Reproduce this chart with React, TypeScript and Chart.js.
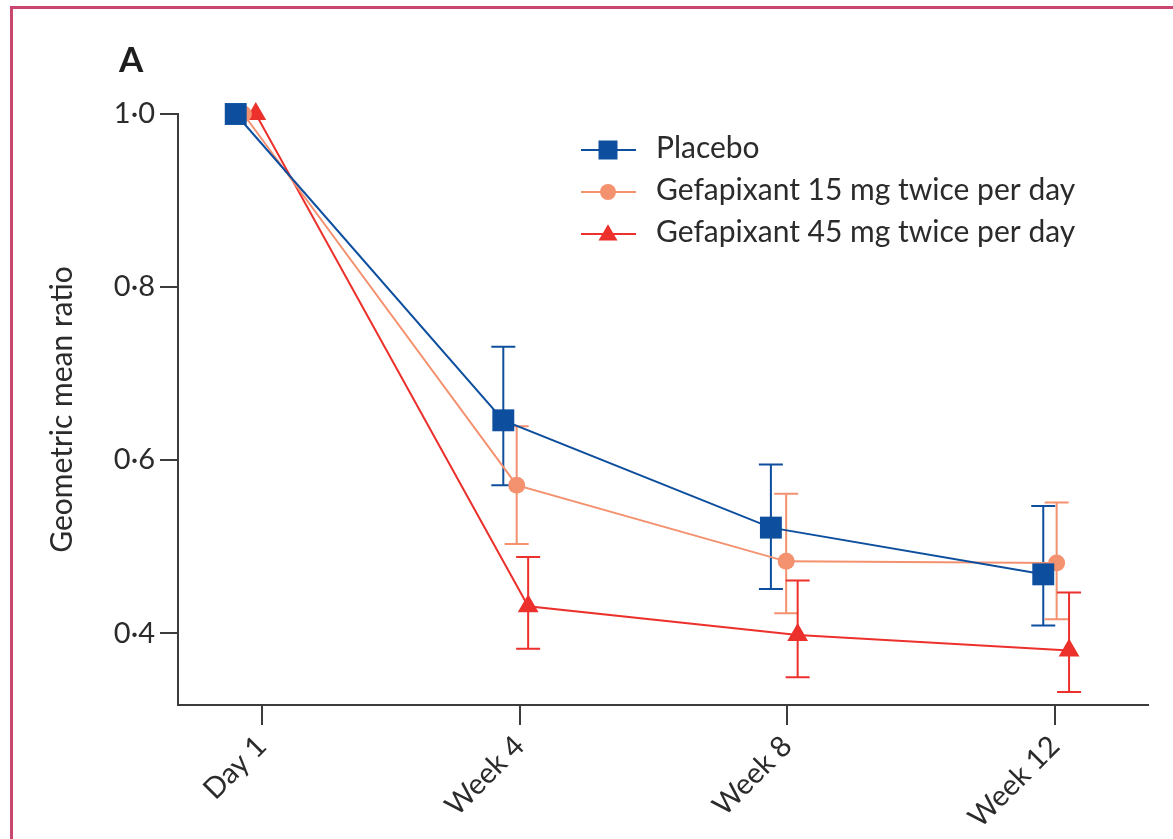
import React, { useEffect, useRef } from "react";
import { Chart, registerables } from "chart.js";

Chart.register(...registerables);

// ---------- data ----------
const categories = ["Day 1", "Week 4", "Week 8", "Week 12"];
const categoryDays = [1, 28, 56, 84];
const yTicks = [0.4, 0.6, 0.8, 1.0];
const seriesNames = [
  "Placebo",
  "Gefapixant 15 mg twice per day",
  "Gefapixant 45 mg twice per day",
];

const placeboMean = [1.0, 0.646, 0.522, 0.468];
const placeboLow = [null, 0.571, 0.451, 0.409];
const placeboHigh = [null, 0.731, 0.595, 0.547];
const placeboDodge = [-2.7, -1.7, -1.7, -1.2];

const g15Mean = [1.0, 0.571, 0.483, 0.481];
const g15Low = [null, 0.503, 0.423, 0.416];
const g15High = [null, 0.639, 0.561, 0.551];
const g15Dodge = [-1.9, -0.3, -0.1, 0.2];

const g45Mean = [1.0, 0.431, 0.398, 0.38];
const g45Low = [null, 0.382, 0.349, 0.332];
const g45High = [null, 0.488, 0.461, 0.447];
const g45Dodge = [-0.6, 0.9, 1.1, 1.5];

// ---------- style ----------
const C_PLACEBO = "#0d4f9e";
const C_15 = "#f4916f";
const C_45 = "#ec302c";
const AXIS = "#3c3c3c";
const TEXT = "#2b2b2b";
const FONT = "Lato";

const seriesColors = [C_PLACEBO, C_15, C_45];
const seriesStyles = ["rect", "circle", "triangle"];
const seriesRadius = [15.5, 8.5, 12];
const lows = [placeboLow, g15Low, g45Low];
const highs = [placeboHigh, g15High, g45High];

function points(mean: number[], dodge: number[]) {
  return categoryDays.map((d, i) => ({ x: d + dodge[i], y: mean[i] }));
}

function drawMarker(ctx: CanvasRenderingContext2D, style: string, x: number, y: number, size: number, color: string) {
  ctx.save();
  ctx.fillStyle = color;
  ctx.beginPath();
  if (style === "rect") {
    ctx.rect(x - size / 2, y - size / 2, size, size);
  } else if (style === "circle") {
    ctx.arc(x, y, size / 2, 0, Math.PI * 2);
  } else {
    const h = size * 0.85;
    ctx.moveTo(x, y - h * 0.6);
    ctx.lineTo(x + size / 2, y + h * 0.4);
    ctx.lineTo(x - size / 2, y + h * 0.4);
    ctx.closePath();
  }
  ctx.fill();
  ctx.restore();
}

const errorBarPlugin = {
  id: "errorBars",
  beforeDatasetsDraw(chart: any) {
    const ctx = chart.ctx;
    const xs = chart.scales.x;
    const ys = chart.scales.y;
    ctx.save();
    ctx.lineWidth = 2;
    chart.data.datasets.forEach((ds: any, i: number) => {
      ctx.strokeStyle = seriesColors[i];
      ds.data.forEach((p: any, j: number) => {
        const lo = lows[i][j];
        const hi = highs[i][j];
        if (lo == null || hi == null) return;
        const x = xs.getPixelForValue(p.x);
        const y1 = ys.getPixelForValue(lo);
        const y2 = ys.getPixelForValue(hi);
        ctx.beginPath();
        ctx.moveTo(x, y1);
        ctx.lineTo(x, y2);
        ctx.moveTo(x - 12, y1);
        ctx.lineTo(x + 12, y1);
        ctx.moveTo(x - 12, y2);
        ctx.lineTo(x + 12, y2);
        ctx.stroke();
      });
    });
    ctx.restore();
  },
};

const decorPlugin = {
  id: "decor",
  afterDraw(chart: any) {
    const ctx = chart.ctx;
    ctx.save();
    // panel letter
    ctx.fillStyle = "#1e1e1e";
    ctx.font = `bold 35px ${FONT}`;
    ctx.textBaseline = "alphabetic";
    ctx.textAlign = "left";
    ctx.fillText("A", 119, 72);
    // legend
    const x0 = 581;
    const x1 = 636;
    const mx = 608;
    seriesNames.forEach((name, i) => {
      const y = 150 + i * 42;
      ctx.strokeStyle = seriesColors[i];
      ctx.lineWidth = 2;
      ctx.beginPath();
      ctx.moveTo(x0, y);
      ctx.lineTo(x1, y);
      ctx.stroke();
      drawMarker(ctx, seriesStyles[i], mx, y, i === 0 ? 19 : i === 1 ? 16 : 19, seriesColors[i]);
      ctx.fillStyle = TEXT;
      ctx.font = `30px ${FONT}`;
      ctx.textBaseline = "middle";
      ctx.fillText(name, 656, y - 2);
    });
    ctx.restore();
  },
};

export default function App() {
  const ref = useRef<HTMLCanvasElement | null>(null);

  useEffect(() => {
    if (!ref.current) return;
    const chart = new Chart(ref.current, {
      type: "line",
      data: {
        datasets: [
          { label: seriesNames[0], data: points(placeboMean, placeboDodge) },
          { label: seriesNames[1], data: points(g15Mean, g15Dodge) },
          { label: seriesNames[2], data: points(g45Mean, g45Dodge) },
        ].map((d, i) => ({
          ...d,
          borderColor: seriesColors[i],
          backgroundColor: seriesColors[i],
          borderWidth: 2,
          pointStyle: seriesStyles[i] as any,
          pointRadius: seriesRadius[i],
          pointBorderWidth: 0,
          pointHoverRadius: seriesRadius[i],
          tension: 0,
          clip: false as any,
          order: i,
        })),
      },
      options: {
        animation: false,
        responsive: false,
        devicePixelRatio: 1,
        layout: { padding: { left: 44, top: 114, right: 25, bottom: 0 } },
        plugins: { legend: { display: false }, tooltip: { enabled: false } },
        scales: {
          x: {
            type: "linear",
            position: "bottom",
            min: -7.74,
            max: 93.76,
            afterBuildTicks: (s: any) => {
              s.ticks = categoryDays.map((v) => ({ value: v }));
            },
            afterFit: (s: any) => {
              s.height = 134;
            },
            ticks: {
              autoSkip: false,
              minRotation: 45,
              maxRotation: 45,
              padding: 4,
              color: TEXT,
              font: { family: FONT, size: 29 },
              callback: (_v: any, i: number) => categories[i],
            },
            grid: { drawOnChartArea: false, drawTicks: true, tickLength: 20, color: AXIS, lineWidth: 2 },
            border: { display: true, color: AXIS, width: 2 },
          },
          y: {
            type: "linear",
            position: "left",
            min: 0.317,
            max: 1.0,
            afterBuildTicks: (s: any) => {
              s.ticks = yTicks.map((v) => ({ value: v }));
            },
            afterFit: (s: any) => {
              s.width = 134;
            },
            ticks: {
              padding: 5,
              color: TEXT,
              font: { family: FONT, size: 29 },
              callback: (v: any) => Number(v).toFixed(1).replace(".", "·"),
            },
            grid: { drawOnChartArea: false, drawTicks: true, tickLength: 18, color: AXIS, lineWidth: 2 },
            border: { display: true, color: AXIS, width: 2 },
            title: {
              display: true,
              text: "Geometric mean ratio",
              color: TEXT,
              font: { family: FONT, size: 30 },
              padding: { top: 0, bottom: 0 },
            },
          },
        },
      },
      plugins: [errorBarPlugin, decorPlugin],
    });
    return () => chart.destroy();
  }, []);

  return (
    <div style={{ position: "fixed", left: 0, top: 0, width: 1173, height: 839, background: "#ffffff", overflow: "hidden" }}>
      <div
        style={{
          position: "absolute",
          left: 10,
          top: 6,
          width: 1200,
          height: 900,
          borderTop: "3px solid #c9476f",
          borderLeft: "3px solid #c9476f",
        }}
      />
      <canvas ref={ref} width={1173} height={839} style={{ position: "absolute", left: 0, top: 0, width: 1173, height: 839 }} />
    </div>
  );
}
